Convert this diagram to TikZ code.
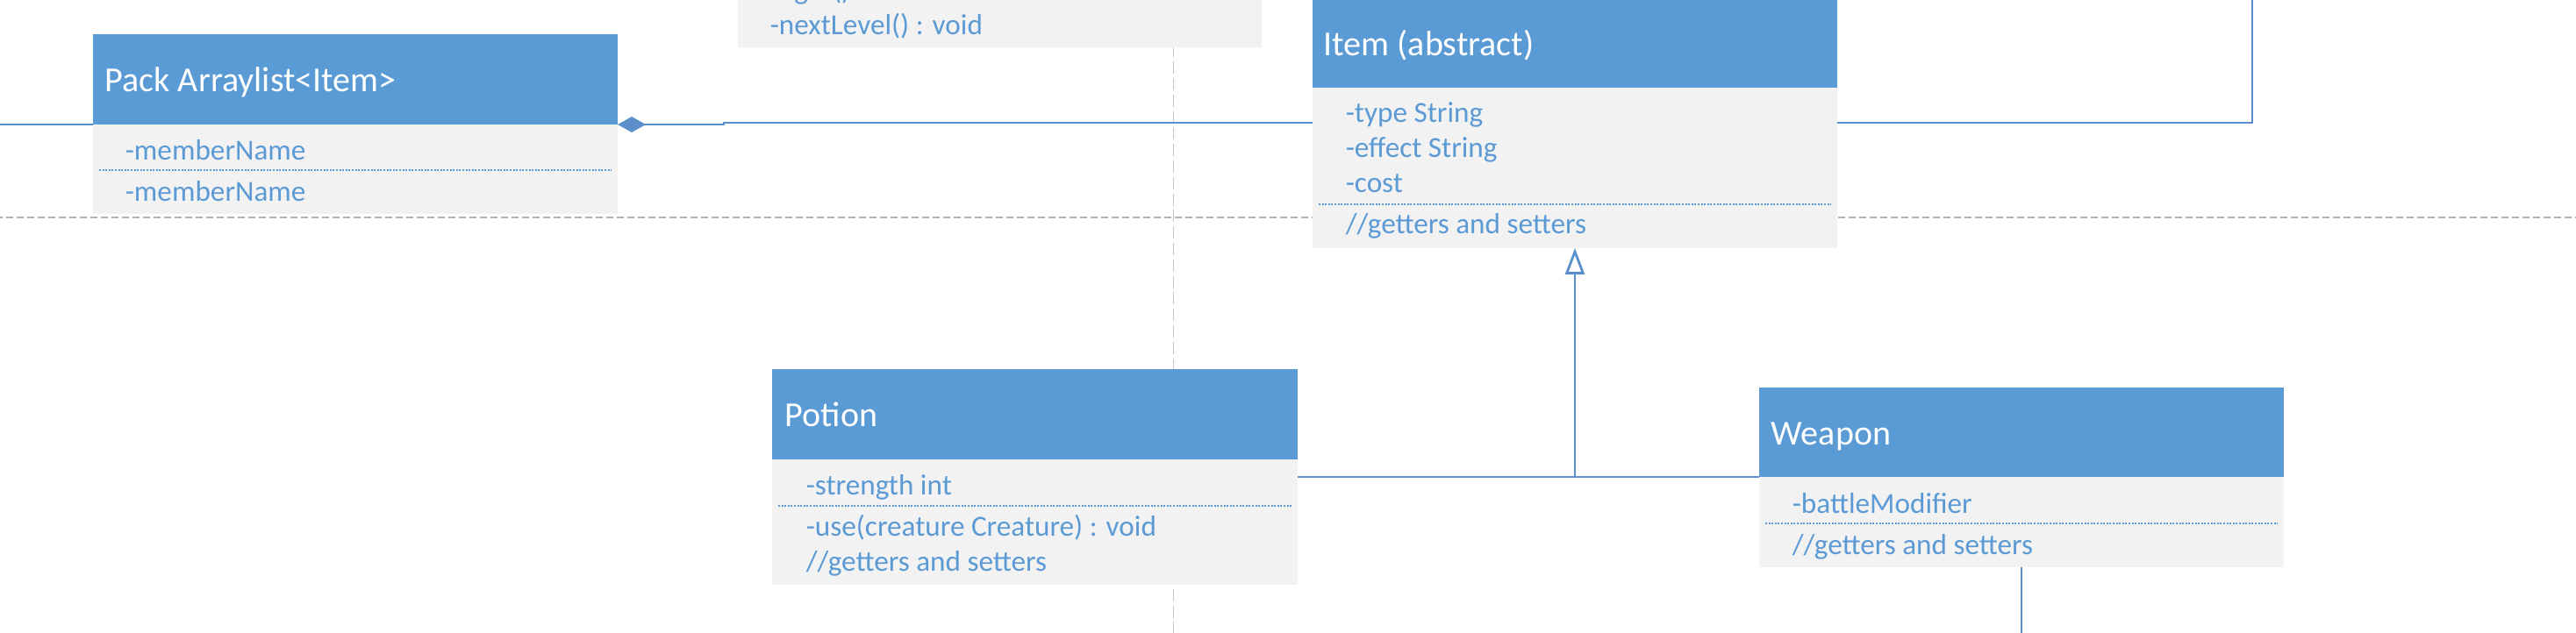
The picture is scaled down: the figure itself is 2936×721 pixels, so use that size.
\documentclass[tikz,border=0pt]{standalone}
\usepackage{fontspec}
\setmainfont{Carlito}
\usetikzlibrary{arrows.meta}
\definecolor{hblue}{HTML}{5B9BD5}
\definecolor{bgrey}{HTML}{F2F2F2}
\definecolor{lblue}{HTML}{5B8FCB}
\definecolor{tblue}{HTML}{5B9AD4}
\definecolor{dgrey}{HTML}{B3B3B3}
\definecolor{vgrey}{HTML}{C6C6C6}
\newcommand\pu{0.25pt}
\begin{document}
\begin{tikzpicture}[x=0.25pt,y=-0.25pt,
  hdr/.style={fill=hblue,inner sep=0,outer sep=0,anchor=north west},
  bdy/.style={fill=bgrey,inner sep=0,outer sep=0,anchor=north west},
  title/.style={text=white,font=\fontsize{10}{12}\selectfont,anchor=base west,inner sep=0},
  member/.style={text=tblue,font=\fontsize{8.3}{10}\selectfont,anchor=base west,inner sep=0},
  sepline/.style={draw=tblue,line width=0.45pt,dash pattern=on 0.5pt off 0.4pt},
  conn/.style={draw=lblue,line width=0.7pt},
  hguide/.style={draw=dgrey,line width=0.3pt,dash pattern=on 2pt off 1pt},
  vguide/.style={draw=vgrey,line width=0.25pt,dash pattern=on 3.5pt off 1.2pt},
]
\useasboundingbox (0,0) rectangle (2936,721);
\clip (0,0) rectangle (2936,721);

% background guides
\coordinate (gL) at (-5,248);
\coordinate (gR) at (2941,248);
\coordinate (gT) at (1337,-5);
\coordinate (gB) at (1337,726);
\draw[hguide] (gL) -- (gR);
\draw[vguide] (gT) -- (gB);

% Pack
\node[hdr, minimum width=598*\pu, minimum height=103*\pu] (packH) at (106,39) {};
\node[bdy, minimum width=598*\pu, minimum height=102*\pu] (packB) at (packH.south west) {};

% Level (top, cut)
\node[bdy, minimum width=597*\pu, minimum height=114*\pu] (levelB) at (841,-60) {};

% connectors behind Item
\coordinate (offLeft) at (-5,142);
\coordinate (bend1) at (825,142);
\coordinate (bend2) at (825,140);
\coordinate (bend3) at (2567,140);
\coordinate (offTop) at (2567,-5);
\draw[conn] (packH.south west) -- (offLeft);
\draw[conn,{Diamond[length=32*\pu,width=18*\pu]}-] (packH.south east) -- (bend1) -- (bend2) -- (bend3) -- (offTop);

% Item
\node[hdr, minimum width=598*\pu, minimum height=103*\pu] (itemH) at (1496,-3) {};
\node[bdy, minimum width=598*\pu, minimum height=183*\pu] (itemB) at (itemH.south west) {};

% Potion
\node[hdr, minimum width=599*\pu, minimum height=103*\pu] (potionH) at (880,421) {};
\node[bdy, minimum width=599*\pu, minimum height=143*\pu] (potionB) at (potionH.south west) {};

% Weapon
\node[hdr, minimum width=598*\pu, minimum height=102*\pu] (weaponH) at (2005,442) {};
\node[bdy, minimum width=598*\pu, minimum height=103*\pu] (weaponB) at (weaponH.south west) {};

% separators
\draw[sepline] (113,194) -- (697,194);
\draw[sepline] (1503,233) -- (2087,233);
\draw[sepline] (887,577) -- (1472,577);
\draw[sepline] (2012,597) -- (2596,597);

% inheritance
\coordinate (join) at (itemB.south |- weaponH.south);
\coordinate (offBottom) at (2304,730);
\draw[conn] (potionB.east |- join) -- (weaponH.south west);
\draw[conn,-{Triangle[open,length=30*\pu,width=22*\pu]}] (join) -- (itemB.south);
\draw[conn] (weaponB.south) -- (offBottom);

% texts
\node[title] (packT) at (119,104) {Pack Arraylist<Item>};
\node[member] (packM1) at (142,182) {-memberName};
\node[member] (packM2) at (142,229) {-memberName};

\node[member] (levelM0) at (877,-1) {-fight() : void};
\node[member] (levelM1) at (877,39) {-nextLevel() : void};

\node[title] (itemT) at (1508,63) {Item (abstract)};
\node[member] (itemM1) at (1533,139) {-type String};
\node[member] (itemM2) at (1533,179) {-effect String};
\node[member] (itemM3) at (1533,219) {-cost};
\node[member] (itemM4) at (1533,266) {//getters and setters};

\node[title] (potionT) at (894,486) {Potion};
\node[member] (potionM1) at (918,564) {-strength int};
\node[member] (potionM2) at (918,611) {-use(creature Creature) : void};
\node[member] (potionM3) at (918,651) {//getters and setters};

\node[title] (weaponT) at (2018,507) {Weapon};
\node[member] (weaponM1) at (2042,585) {-battleModifier};
\node[member] (weaponM2) at (2042,632) {//getters and setters};
\end{tikzpicture}
\end{document}
